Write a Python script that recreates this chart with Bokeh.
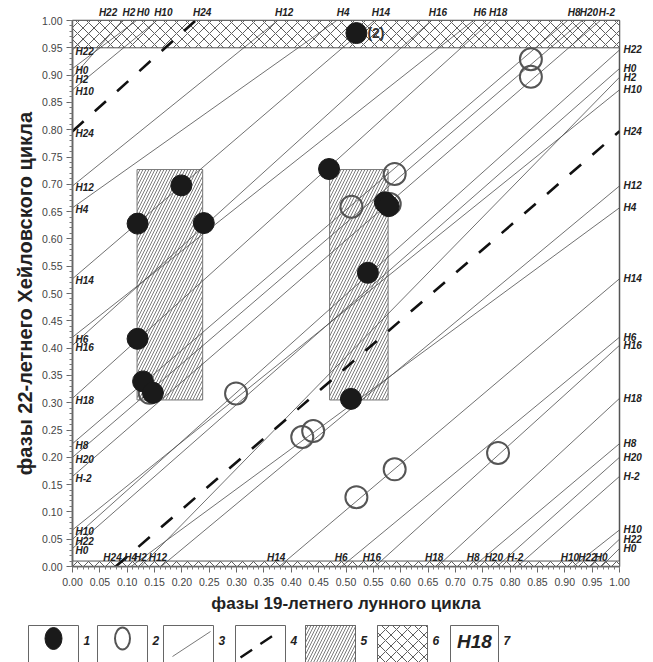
from bokeh.plotting import figure
from bokeh.models import (ColumnDataSource, LabelSet, Range1d, FixedTicker, PrintfTickFormatter, Label,
                          LinearAxis, AllLabels)
from bokeh.core.properties import value
from bokeh.embed import file_html
from bokeh.resources import INLINE

# ---------------- data ----------------
# Hale cycles: start on the bottom edge (x), crossings of the right/left edge (y), end on the top edge (x)
cycle_names = ["H-2", "H0", "H2", "H4", "H6", "H8", "H10", "H12", "H14", "H16", "H18", "H20", "H22", "H24"]
cycle_start_x = [0.813, 0.967, 0.125, 0.107, 0.492, 0.733, 0.915, 0.162, 0.378, 0.553, 0.667, 0.776, 0.947, 0.079]
cycle_edge_y = [[0.165], [0.033, 0.912], [0.896], [0.657], [0.420], [0.225], [0.067, 0.873],
                [0.697], [0.527], [0.405], [0.308], [0.200], [0.050, 0.946], [0.797]]
cycle_end_x = [0.965, 0.117, 0.091, 0.483, 0.733, 0.905, 0.154, 0.375, 0.552, 0.656, 0.766, 0.932, 0.053, 0.225]
cycle_predicted = [False, False, False, False, False, False, False, False, False, False, False, False, False, True]

# events (1 = filled, 2 = open)
filled_x = [0.519, 0.469, 0.199, 0.119, 0.240, 0.571, 0.578, 0.540, 0.119, 0.129, 0.147, 0.509]
filled_y = [0.977, 0.728, 0.698, 0.628, 0.629, 0.667, 0.660, 0.538, 0.417, 0.339, 0.318, 0.307]
open_x = [0.838, 0.838, 0.589, 0.510, 0.580, 0.141, 0.299, 0.420, 0.440, 0.519, 0.589, 0.778]
open_y = [0.929, 0.897, 0.719, 0.659, 0.664, 0.318, 0.317, 0.237, 0.248, 0.127, 0.178, 0.208]

# hatched zones (5)
zone_x0 = [0.118, 0.470]
zone_x1 = [0.238, 0.577]
zone_y0 = [0.305, 0.305]
zone_y1 = [0.727, 0.727]

# cross-hatched bands (6)
band_y0 = [0.95, 0.0]
band_y1 = [1.0, 0.01]

x_ticks = [0.00, 0.05, 0.10, 0.15, 0.20, 0.25, 0.30, 0.35, 0.40, 0.45, 0.50,
           0.55, 0.60, 0.65, 0.70, 0.75, 0.80, 0.85, 0.90, 0.95, 1.00]
y_ticks = x_ticks
minor_ticks = [i / 100 for i in range(101)]

legend_numbers = ["1", "2", "3", "4", "5", "6", "7"]

# ---------------- build segments & labels ----------------
solid_xs, solid_ys, dash_xs, dash_ys = [], [], [], []
lab_bottom = dict(x=[], y=[], t=[])
lab_top = dict(x=[], y=[], t=[])
lab_left = dict(x=[], y=[], t=[])
lab_right = dict(x=[], y=[], t=[])
for name, x0, eys, x1, pred in zip(cycle_names, cycle_start_x, cycle_edge_y, cycle_end_x, cycle_predicted):
    segs = []
    cur = (x0, 0.0)
    for ey in eys:
        segs.append(([cur[0], 1.0], [cur[1], ey]))
        cur = (0.0, ey)
        lab_left["x"].append(0.0); lab_left["y"].append(ey); lab_left["t"].append(name)
        lab_right["x"].append(1.0); lab_right["y"].append(ey); lab_right["t"].append(name)
    segs.append(([cur[0], x1], [cur[1], 1.0]))
    lab_bottom["x"].append(x0); lab_bottom["y"].append(0.0); lab_bottom["t"].append(name)
    lab_top["x"].append(x1); lab_top["y"].append(1.0); lab_top["t"].append(name)
    for sx, sy in segs:
        if pred:
            dash_xs.append(sx); dash_ys.append(sy)
        else:
            solid_xs.append(sx); solid_ys.append(sy)

FONT = "Liberation Sans"

p = figure(width=653, height=618, x_range=Range1d(0, 1), y_range=Range1d(0, 1),
           output_backend="svg", toolbar_location=None,
           min_border_left=72, min_border_right=34, min_border_top=20, min_border_bottom=52)
p.xgrid.visible = False
p.ygrid.visible = False
p.outline_line_color = "#555555"
p.outline_line_width = 1.5
p.background_fill_color = "white"
p.border_fill_color = "white"

for ax, ticks in ((p.xaxis[0], x_ticks), (p.yaxis[0], y_ticks)):
    ax.ticker = FixedTicker(ticks=ticks, minor_ticks=minor_ticks)
    ax.formatter = PrintfTickFormatter(format="%.2f")
    ax.axis_line_color = "#666666"
    ax.axis_line_width = 1.5
    ax.major_tick_line_color = "#666666"
    ax.minor_tick_line_color = "#777777"
    ax.major_tick_out = 6
    ax.major_tick_in = 0
    ax.minor_tick_out = 3
    ax.minor_tick_in = 0
    ax.major_label_text_font = FONT
    ax.major_label_text_font_size = "10.5px"
    ax.major_label_text_color = "#444444"
    ax.axis_label_text_font = FONT
    ax.axis_label_text_font_style = "bold"
    ax.axis_label_text_color = "#222222"

p.xaxis.axis_label = "фазы 19-летнего лунного цикла"
p.yaxis.axis_label = "фазы 22-летнего Хейловского цикла"
p.xaxis.axis_label_text_font_size = "17px"
p.yaxis.axis_label_text_font_size = "20px"
p.xaxis.major_label_standoff = 5
p.xaxis.axis_label_standoff = 5
p.yaxis.major_label_standoff = 4
p.yaxis.axis_label_standoff = 3

# bands & zones
p.quad(left=[0, 0], right=[1, 1], bottom=band_y0, top=band_y1, fill_color="white",
       line_color="#555555", line_width=1, hatch_pattern="x", hatch_scale=11,
       hatch_color="#333333", hatch_weight=0.8)
p.quad(left=zone_x0, right=zone_x1, bottom=zone_y0, top=zone_y1, fill_color="white",
       line_color="#777777", line_width=1, hatch_pattern="/", hatch_scale=6,
       hatch_color="#444444", hatch_weight=0.7)

# cycle lines
p.multi_line(solid_xs, solid_ys, line_color="#4d4d4d", line_width=0.8)
p.multi_line(dash_xs, dash_ys, line_color="#111111", line_width=2.6, line_dash="15 15")

# events
p.scatter(open_x, open_y, size=22, marker="circle", fill_color=None, line_color="#555555", line_width=2)
p.scatter(filled_x, filled_y, size=21, marker="circle", fill_color="#1a1a1a", line_color="#1a1a1a")

common = dict(text_font=value(FONT), text_font_style="bold italic", text_font_size="10px",
              text_color="#222222")
p.add_layout(LabelSet(x="x", y="y", text="t", source=ColumnDataSource(lab_bottom),
                      text_align="right", text_baseline="middle", x_offset=6, y_offset=9, **common))
p.add_layout(LabelSet(x="x", y="y", text="t", source=ColumnDataSource(lab_left),
                      text_align="left", text_baseline="middle", x_offset=3, y_offset=-2, **common))
p.add_layout(Label(x=filled_x[0], y=filled_y[0], text="(2)", x_offset=11, y_offset=0,
                   text_baseline="middle", text_font=FONT, text_font_style="bold",
                   text_font_size="14px", text_color="#333333"))

# labels outside the frame: extra axes whose tick labels are the cycle names
def label_axis(ticks, names, standoff):
    ax = LinearAxis(ticker=FixedTicker(ticks=ticks, minor_ticks=[]),
                    major_label_overrides={t: n for t, n in zip(ticks, names)},
                    major_label_policy=AllLabels())
    ax.axis_line_color = None
    ax.major_tick_line_color = None
    ax.minor_tick_line_color = None
    ax.major_tick_out = 0
    ax.major_tick_in = 0
    ax.major_label_standoff = standoff
    ax.major_label_text_font = FONT
    ax.major_label_text_font_style = "bold italic"
    ax.major_label_text_font_size = "10px"
    ax.major_label_text_color = "#222222"
    return ax

top_ticks = [x + 0.012 for x in lab_top["x"]]
p.add_layout(label_axis(top_ticks, lab_top["t"], 3), "above")
p.add_layout(label_axis(lab_right["y"], lab_right["t"], 4), "right")

# ---------------- legend strip ----------------
leg = figure(width=653, height=44, x_range=Range1d(0, 653), y_range=Range1d(662, 618),
             output_backend="svg", toolbar_location=None,
             min_border_left=0, min_border_right=0, min_border_top=0, min_border_bottom=0)
leg.axis.visible = False
leg.xgrid.visible = False
leg.ygrid.visible = False
leg.outline_line_color = None
leg.border_fill_color = "white"

box_left = [28, 97, 163, 235, 305, 377, 450]
box_right = [78, 147, 213, 285, 355, 427, 498]
leg.quad(left=box_left, right=box_right, top=[625] * 7, bottom=[675] * 7,
         fill_color="white", line_color="#666666", line_width=1)
leg.quad(left=[box_left[4]], right=[box_right[4]], top=[625], bottom=[675], fill_color="white",
         line_color="#666666", hatch_pattern="/", hatch_scale=6, hatch_color="#444444", hatch_weight=0.7)
leg.quad(left=[box_left[5]], right=[box_right[5]], top=[625], bottom=[675], fill_color="white",
         line_color="#666666", hatch_pattern="x", hatch_scale=11, hatch_color="#333333", hatch_weight=0.8)
leg.ellipse(x=[53], y=[638], width=17, height=22, fill_color="#1a1a1a", line_color="#1a1a1a")
leg.ellipse(x=[122], y=[638], width=15, height=22, fill_color=None, line_color="#555555", line_width=2)
leg.line([172, 210], [656, 631], line_color="#555555", line_width=0.8)
leg.line([240, 277], [657, 632], line_color="#111111", line_width=2.4, line_dash="14 10")
leg.text(x=[474], y=[641], text=["H18"], text_align="center", text_baseline="middle",
         text_font=value(FONT), text_font_style="bold italic", text_font_size="19px", text_color="#222222")
leg.text(x=[r + 5 for r in box_right], y=[640] * 7, text=legend_numbers, text_align="left",
         text_baseline="middle", text_font=value(FONT), text_font_style="bold italic",
         text_font_size="12px", text_color="#222222")

open("out.html", "w").write(file_html([p, leg], INLINE))
